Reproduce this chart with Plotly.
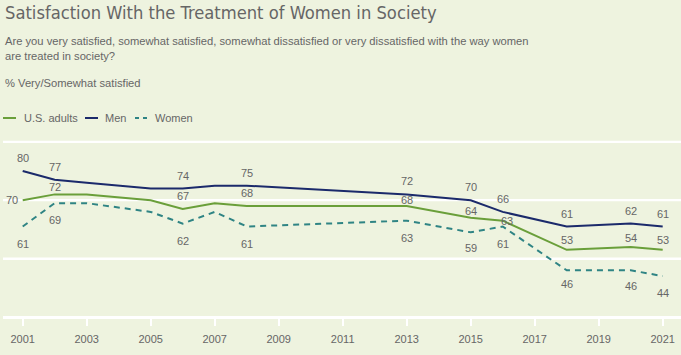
import plotly.graph_objects as go

# ---------------- data ----------------
years = [2001, 2002, 2003, 2005, 2006, 2007, 2008, 2013, 2015, 2016, 2018, 2020, 2021]
us_adults = [70, 72, 72, 70, 67, 69, 68, 68, 64, 63, 53, 54, 53]
men = [80, 77, 76, 74, 74, 75, 75, 72, 70, 66, 61, 62, 61]
women = [61, 69, 69, 66, 62, 66, 61, 63, 59, 61, 46, 46, 44]
labeled_years = [2001, 2002, 2006, 2008, 2013, 2015, 2016, 2018, 2020, 2021]
series_names = ["U.S. adults", "Men", "Women"]
x_ticks = list(range(2001, 2022, 2))
y_grid = [30, 50, 70, 90]

title_text = "Satisfaction With the Treatment of Women in Society"
subtitle_lines = [
    "Are you very satisfied, somewhat satisfied, somewhat dissatisfied or very dissatisfied with the way women",
    "are treated in society?",
]
measure_text = "% Very/Somewhat satisfied"

# ---------------- style ----------------
W, H = 681, 355
ML, MR, MT, MB = 3, 0, 136, 38
BG = "#eef3df"
TXT = "#666666"
C_US = "#6a9f3a"
C_MEN = "#1b2a6b"
C_WOMEN = "#2f8484"
FONT = "Liberation Sans, Arial, sans-serif"
NARROW = "Liberation Sans Narrow, DejaVu Sans Condensed, Arial Narrow, sans-serif"

PW = W - ML - MR
PH = H - MT - MB
Y0, Y1 = 30, 92


def cont(xpx, ypx):
    """container pixel -> paper coords"""
    return (xpx - ML) / PW, (H - MB - ypx) / PH


fig = go.Figure()
styles = [
    (us_adults, C_US, "solid"),
    (men, C_MEN, "solid"),
    (women, C_WOMEN, "6px,5px"),
]
for (vals, col, dash), name in zip(styles, series_names):
    fig.add_trace(go.Scatter(
        x=years, y=vals, mode="lines", name=name, showlegend=False,
        line=dict(color=col, width=2, dash=dash), hoverinfo="x+y+name",
    ))

annotations = []
label_font = dict(family=FONT, size=11, color=TXT)
us_shift = {2002: 7, 2006: 13, 2008: 13, 2013: 6, 2015: 7, 2016: 0,
            2018: 10, 2020: 9, 2021: 10}
women_shift = {2018: -14, 2020: -16, 2015: -16}
for yr in labeled_years:
    i = years.index(yr)
    annotations.append(dict(x=yr, y=men[i], xref="x", yref="y", text=str(men[i]),
                            showarrow=False, yshift=13, font=label_font))
    annotations.append(dict(x=yr, y=women[i], xref="x", yref="y", text=str(women[i]),
                            showarrow=False, yshift=women_shift.get(yr, -17), font=label_font))
    if yr == 2001:
        annotations.append(dict(x=yr, y=us_adults[i], xref="x", yref="y", text=str(us_adults[i]),
                                showarrow=False, xanchor="right", xshift=-3, yshift=0,
                                font=label_font))
    else:
        annotations.append(dict(x=yr, y=us_adults[i], xref="x", yref="y", text=str(us_adults[i]),
                                showarrow=False, yshift=us_shift[yr],
                                xshift=4 if yr == 2016 else 0, font=label_font))

tx, ty = cont(3, 12)
annotations.append(dict(x=tx, y=ty, xref="paper", yref="paper", text=title_text,
                        showarrow=False, xanchor="left", yanchor="middle",
                        font=dict(family=NARROW, size=18.2, color=TXT)))
for txt, ypx in [(subtitle_lines[0], 41), (subtitle_lines[1], 56), (measure_text, 83)]:
    sx, sy = cont(3, ypx)
    annotations.append(dict(x=sx, y=sy, xref="paper", yref="paper", text=txt,
                            showarrow=False, xanchor="left", yanchor="middle",
                            font=dict(family=FONT, size=11.2, color=TXT)))

# horizontal gridlines (drawn beneath the data)
shapes = []
for gv in y_grid:
    shapes.append(dict(type="line", xref="paper", yref="y", x0=0, x1=1, y0=gv, y1=gv,
                       layer="below", line=dict(color="#ffffff", width=2)))

# custom legend
legend_items = [
    (series_names[0], C_US, "solid", 3, 21.5),
    (series_names[1], C_MEN, "solid", 85, 103),
    (series_names[2], C_WOMEN, "dash", 135, 153),
]
ly = 118
for name, col, dash, sx0, tx0 in legend_items:
    x0, y0 = cont(sx0, ly)
    x1, _ = cont(sx0 + 13, ly)
    shapes.append(dict(type="line", xref="paper", yref="paper", x0=x0, x1=x1, y0=y0, y1=y0,
                       line=dict(color=col, width=2, dash="4px,4px" if dash == "dash" else "solid")))
    lx, lyy = cont(tx0, ly)
    annotations.append(dict(x=lx, y=lyy, xref="paper", yref="paper", text=name,
                            showarrow=False, xanchor="left", yanchor="middle",
                            font=dict(family=FONT, size=11, color=TXT)))

fig.update_layout(
    width=W, height=H,
    margin=dict(l=ML, r=MR, t=MT, b=MB, pad=0),
    paper_bgcolor=BG, plot_bgcolor=BG,
    showlegend=False,
    annotations=annotations,
    shapes=shapes,
    xaxis=dict(
        range=[2001 - 19.7 / 32, 2021 + 18.3 / 32],
        tickvals=x_ticks, ticktext=[str(v) for v in x_ticks],
        showgrid=False, zeroline=False,
        showline=True, linecolor="white", linewidth=2,
        ticks="outside", ticklen=7, tickwidth=2, tickcolor="white",
        ticklabelstandoff=4,
        tickfont=dict(family=FONT, size=11, color=TXT),
        fixedrange=True,
    ),
    yaxis=dict(
        range=[Y0, Y1], tickmode="array", tickvals=y_grid,
        showgrid=True, gridcolor="#ffffff", gridwidth=2,
        zeroline=False, showticklabels=False, showline=False,
        fixedrange=True,
    ),
)

fig.write_html(
    "out.html",
    config={"displayModeBar": False},
    post_script="document.body.style.margin='0';document.body.style.overflow='hidden';",
)
